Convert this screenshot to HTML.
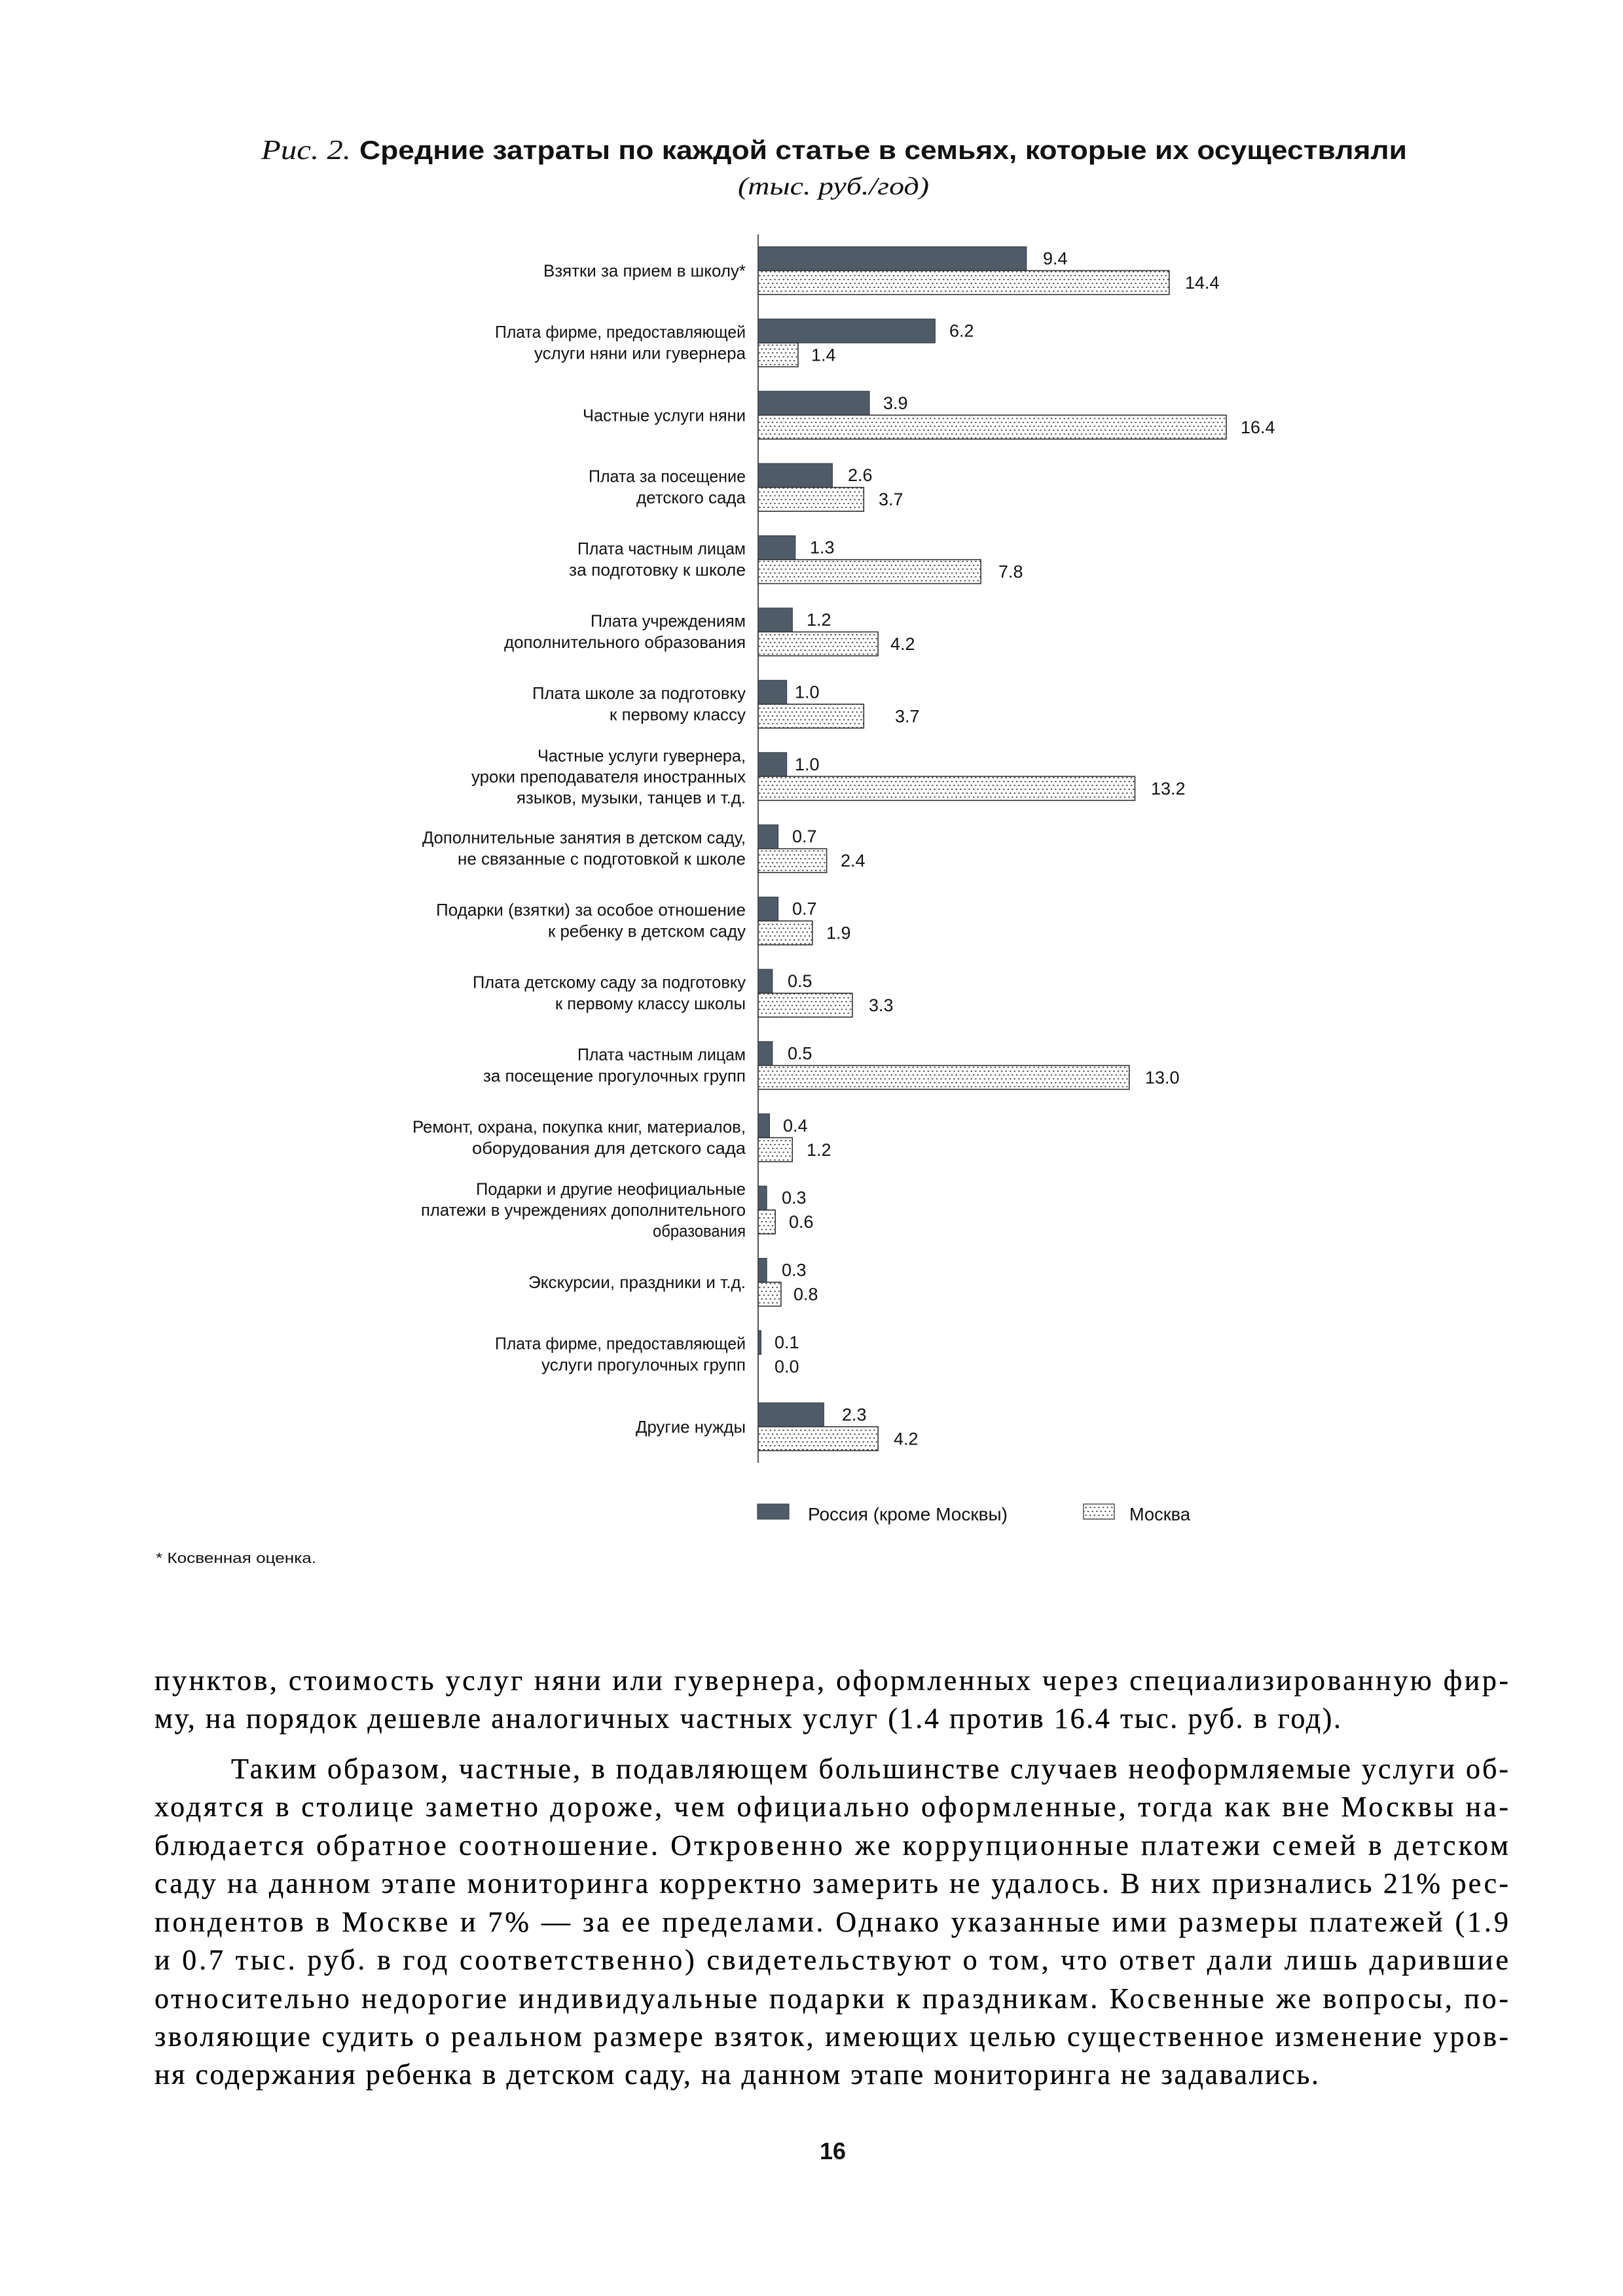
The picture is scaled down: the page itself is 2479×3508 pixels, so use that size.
<!DOCTYPE html>
<html>
<head>
<meta charset="utf-8">
<style>
  html, body { margin:0; padding:0; background:#fff; }
  body { width:2479px; height:3508px; overflow:hidden; position:relative; }
  svg { position:absolute; left:0; top:0; }
  .lbl { font-family:"Liberation Sans", "DejaVu Sans", sans-serif; font-size:26px; fill:#111; }
  .val { font-family:"Liberation Sans", "DejaVu Sans", sans-serif; font-size:27px; fill:#111; }
  .body { font-family:"Liberation Serif", "DejaVu Serif", serif; font-size:44px; fill:#000; stroke:#000; stroke-width:0.3; }
</style>
</head>
<body>
<svg width="2479" height="3508" viewBox="0 0 2479 3508" xmlns="http://www.w3.org/2000/svg">
  <defs>
    <pattern id="dots" patternUnits="userSpaceOnUse" width="6.6" height="11.8">
      <rect x="1" y="1.5" width="2.2" height="1.6" fill="#1e1e1e"/>
      <rect x="4.3" y="7.4" width="2.2" height="1.6" fill="#1e1e1e"/>
    </pattern>
  </defs>

  <!-- Title -->
  <text x="399" y="243" font-family="Liberation Serif, serif" font-style="italic" font-size="42" fill="#111" textLength="137" lengthAdjust="spacingAndGlyphs">Рис. 2.</text>
  <text x="549" y="243" font-family="Liberation Sans, sans-serif" font-weight="bold" font-size="40" fill="#111" textLength="1600" lengthAdjust="spacingAndGlyphs">Средние затраты по каждой статье в семьях, которые их осуществляли</text>
  <text x="1127" y="297" font-family="Liberation Serif, serif" font-style="italic" font-size="38" fill="#111" textLength="292" lengthAdjust="spacingAndGlyphs">(тыс. руб./год)</text>

  <!-- Axis -->
  <line x1="1158" y1="358" x2="1158" y2="2235" stroke="#555" stroke-width="2"/>

  <!-- Bars -->
  <g stroke="#39434d" stroke-width="1.2" fill="#4f5b67">
    <rect x="1158" y="377" width="409.8" height="36.5"/>
    <rect x="1158" y="487.4" width="270.3" height="36.5"/>
    <rect x="1158" y="597.8" width="170.0" height="36.5"/>
    <rect x="1158" y="708.2" width="113.4" height="36.5"/>
    <rect x="1158" y="818.6" width="56.7" height="36.5"/>
    <rect x="1158" y="929" width="52.3" height="36.5"/>
    <rect x="1158" y="1039.4" width="43.6" height="36.5"/>
    <rect x="1158" y="1149.8" width="43.6" height="36.5"/>
    <rect x="1158" y="1260.2" width="30.5" height="36.5"/>
    <rect x="1158" y="1370.6" width="30.5" height="36.5"/>
    <rect x="1158" y="1481" width="21.8" height="36.5"/>
    <rect x="1158" y="1591.4" width="21.8" height="36.5"/>
    <rect x="1158" y="1701.8" width="17.4" height="36.5"/>
    <rect x="1158" y="1812.2" width="13.1" height="36.5"/>
    <rect x="1158" y="1922.6" width="13.1" height="36.5"/>
    <rect x="1158" y="2033" width="4.4" height="36.5"/>
    <rect x="1158" y="2143.4" width="100.3" height="36.5"/>
  </g>
  <g fill="#fff">
    <rect x="1158" y="413.5" width="627.8" height="36.5"/>
    <rect x="1158" y="523.9" width="61.0" height="36.5"/>
    <rect x="1158" y="634.3" width="715.0" height="36.5"/>
    <rect x="1158" y="744.7" width="161.3" height="36.5"/>
    <rect x="1158" y="855.1" width="340.1" height="36.5"/>
    <rect x="1158" y="965.5" width="183.1" height="36.5"/>
    <rect x="1158" y="1075.9" width="161.3" height="36.5"/>
    <rect x="1158" y="1186.3" width="575.5" height="36.5"/>
    <rect x="1158" y="1296.7" width="104.6" height="36.5"/>
    <rect x="1158" y="1407.1" width="82.8" height="36.5"/>
    <rect x="1158" y="1517.5" width="143.9" height="36.5"/>
    <rect x="1158" y="1627.9" width="566.8" height="36.5"/>
    <rect x="1158" y="1738.3" width="52.3" height="36.5"/>
    <rect x="1158" y="1848.7" width="26.2" height="36.5"/>
    <rect x="1158" y="1959.1" width="34.9" height="36.5"/>
    <rect x="1158" y="2179.9" width="183.1" height="36.5"/>
  </g>
  <g fill="url(#dots)" stroke="#333" stroke-width="1.6">
    <rect x="1158" y="413.5" width="627.8" height="36.5"/>
    <rect x="1158" y="523.9" width="61.0" height="36.5"/>
    <rect x="1158" y="634.3" width="715.0" height="36.5"/>
    <rect x="1158" y="744.7" width="161.3" height="36.5"/>
    <rect x="1158" y="855.1" width="340.1" height="36.5"/>
    <rect x="1158" y="965.5" width="183.1" height="36.5"/>
    <rect x="1158" y="1075.9" width="161.3" height="36.5"/>
    <rect x="1158" y="1186.3" width="575.5" height="36.5"/>
    <rect x="1158" y="1296.7" width="104.6" height="36.5"/>
    <rect x="1158" y="1407.1" width="82.8" height="36.5"/>
    <rect x="1158" y="1517.5" width="143.9" height="36.5"/>
    <rect x="1158" y="1627.9" width="566.8" height="36.5"/>
    <rect x="1158" y="1738.3" width="52.3" height="36.5"/>
    <rect x="1158" y="1848.7" width="26.2" height="36.5"/>
    <rect x="1158" y="1959.1" width="34.9" height="36.5"/>
    <rect x="1158" y="2179.9" width="183.1" height="36.5"/>
  </g>

  <!-- Value labels -->
  <g class="val">
    <text class="val" x="1593" y="404">9.4</text>
    <text class="val" x="1810" y="441">14.4</text>
    <text class="val" x="1450" y="514.4">6.2</text>
    <text class="val" x="1239" y="551.4">1.4</text>
    <text class="val" x="1349" y="624.8">3.9</text>
    <text class="val" x="1895" y="661.8">16.4</text>
    <text class="val" x="1295" y="735.2">2.6</text>
    <text class="val" x="1342" y="772.2">3.7</text>
    <text class="val" x="1237" y="845.6">1.3</text>
    <text class="val" x="1525" y="882.6">7.8</text>
    <text class="val" x="1232" y="956">1.2</text>
    <text class="val" x="1360" y="993">4.2</text>
    <text class="val" x="1214" y="1066.4">1.0</text>
    <text class="val" x="1367" y="1103.4">3.7</text>
    <text class="val" x="1214" y="1176.8">1.0</text>
    <text class="val" x="1758" y="1213.8">13.2</text>
    <text class="val" x="1210" y="1287.2">0.7</text>
    <text class="val" x="1284" y="1324.2">2.4</text>
    <text class="val" x="1210" y="1397.6">0.7</text>
    <text class="val" x="1262" y="1434.6">1.9</text>
    <text class="val" x="1203" y="1508">0.5</text>
    <text class="val" x="1327" y="1545">3.3</text>
    <text class="val" x="1203" y="1618.4">0.5</text>
    <text class="val" x="1749" y="1655.4">13.0</text>
    <text class="val" x="1196" y="1728.8">0.4</text>
    <text class="val" x="1232" y="1765.8">1.2</text>
    <text class="val" x="1194" y="1839.2">0.3</text>
    <text class="val" x="1205" y="1876.2">0.6</text>
    <text class="val" x="1194" y="1949.6">0.3</text>
    <text class="val" x="1212" y="1986.6">0.8</text>
    <text class="val" x="1183" y="2060">0.1</text>
    <text class="val" x="1183" y="2097">0.0</text>
    <text class="val" x="1286" y="2170.4">2.3</text>
    <text class="val" x="1365" y="2207.4">4.2</text>
  </g>

  <!-- Category labels -->
  <g class="lbl" text-anchor="end">
    <text class="lbl" x="1139" y="422.5" textLength="309" lengthAdjust="spacingAndGlyphs">Взятки за прием в школу*</text>

    <text class="lbl" x="1139" y="515.9" textLength="383" lengthAdjust="spacingAndGlyphs">Плата фирме, предоставляющей</text>
    <text class="lbl" x="1139" y="548.4" textLength="323" lengthAdjust="spacingAndGlyphs">услуги няни или гувернера</text>

    <text class="lbl" x="1139" y="643.3" textLength="249" lengthAdjust="spacingAndGlyphs">Частные услуги няни</text>

    <text class="lbl" x="1139" y="736.7" textLength="240" lengthAdjust="spacingAndGlyphs">Плата за посещение</text>
    <text class="lbl" x="1139" y="769.2" textLength="167" lengthAdjust="spacingAndGlyphs">детского сада</text>

    <text class="lbl" x="1139" y="847.1" textLength="257" lengthAdjust="spacingAndGlyphs">Плата частным лицам</text>
    <text class="lbl" x="1139" y="879.6" textLength="270" lengthAdjust="spacingAndGlyphs">за подготовку к школе</text>

    <text class="lbl" x="1139" y="957.5" textLength="237" lengthAdjust="spacingAndGlyphs">Плата учреждениям</text>
    <text class="lbl" x="1139" y="990" textLength="369" lengthAdjust="spacingAndGlyphs">дополнительного образования</text>

    <text class="lbl" x="1139" y="1067.9" textLength="326" lengthAdjust="spacingAndGlyphs">Плата школе за подготовку</text>
    <text class="lbl" x="1139" y="1100.4" textLength="208" lengthAdjust="spacingAndGlyphs">к первому классу</text>

    <text class="lbl" x="1139" y="1163.3" textLength="318" lengthAdjust="spacingAndGlyphs">Частные услуги гувернера,</text>
    <text class="lbl" x="1139" y="1195.3" textLength="419" lengthAdjust="spacingAndGlyphs">уроки преподавателя иностранных</text>
    <text class="lbl" x="1139" y="1227.3" textLength="350" lengthAdjust="spacingAndGlyphs">языков, музыки, танцев и т.д.</text>

    <text class="lbl" x="1139" y="1288.7" textLength="494" lengthAdjust="spacingAndGlyphs">Дополнительные занятия в детском саду,</text>
    <text class="lbl" x="1139" y="1321.2" textLength="440" lengthAdjust="spacingAndGlyphs">не связанные с подготовкой к школе</text>

    <text class="lbl" x="1139" y="1399.1" textLength="473" lengthAdjust="spacingAndGlyphs">Подарки (взятки) за особое отношение</text>
    <text class="lbl" x="1139" y="1431.6" textLength="302" lengthAdjust="spacingAndGlyphs">к ребенку в детском саду</text>

    <text class="lbl" x="1139" y="1509.5" textLength="417" lengthAdjust="spacingAndGlyphs">Плата детскому саду за подготовку</text>
    <text class="lbl" x="1139" y="1542" textLength="291" lengthAdjust="spacingAndGlyphs">к первому классу школы</text>

    <text class="lbl" x="1139" y="1619.9" textLength="257" lengthAdjust="spacingAndGlyphs">Плата частным лицам</text>
    <text class="lbl" x="1139" y="1652.4" textLength="401" lengthAdjust="spacingAndGlyphs">за посещение прогулочных групп</text>

    <text class="lbl" x="1139" y="1730.3" textLength="509" lengthAdjust="spacingAndGlyphs">Ремонт, охрана, покупка книг, материалов,</text>
    <text class="lbl" x="1139" y="1762.8" textLength="418" lengthAdjust="spacingAndGlyphs">оборудования для детского сада</text>

    <text class="lbl" x="1139" y="1825.7" textLength="412" lengthAdjust="spacingAndGlyphs">Подарки и другие неофициальные</text>
    <text class="lbl" x="1139" y="1857.7" textLength="496" lengthAdjust="spacingAndGlyphs">платежи в учреждениях дополнительного</text>
    <text class="lbl" x="1139" y="1889.7" textLength="142" lengthAdjust="spacingAndGlyphs">образования</text>

    <text class="lbl" x="1139" y="1968.1" textLength="332" lengthAdjust="spacingAndGlyphs">Экскурсии, праздники и т.д.</text>

    <text class="lbl" x="1139" y="2061.5" textLength="383" lengthAdjust="spacingAndGlyphs">Плата фирме, предоставляющей</text>
    <text class="lbl" x="1139" y="2094" textLength="312" lengthAdjust="spacingAndGlyphs">услуги прогулочных групп</text>

    <text class="lbl" x="1139" y="2188.9" textLength="168" lengthAdjust="spacingAndGlyphs">Другие нужды</text>
  </g>

  <!-- Legend -->
  <rect x="1157" y="2298" width="48" height="23" fill="#4f5b67" stroke="#39434d" stroke-width="1.2"/>
  <text x="1234" y="2323" font-family="Liberation Sans, sans-serif" font-size="28" fill="#111" textLength="305" lengthAdjust="spacingAndGlyphs">Россия (кроме Москвы)</text>
  <rect x="1655" y="2298" width="47" height="23" fill="#fff"/>
  <rect x="1655" y="2298" width="47" height="23" fill="url(#dots)" stroke="#444" stroke-width="1.4"/>
  <text x="1725" y="2323" font-family="Liberation Sans, sans-serif" font-size="28" fill="#111" textLength="93" lengthAdjust="spacingAndGlyphs">Москва</text>

  <!-- Footnote -->
  <text x="238" y="2388" font-family="Liberation Sans, sans-serif" font-size="22" fill="#111" textLength="245" lengthAdjust="spacingAndGlyphs">* Косвенная оценка.</text>

  <!-- Body text -->
  <g class="body">
    <text class="body" x="236" y="2582" textLength="2068" lengthAdjust="spacing">пунктов, стоимость услуг няни или гувернера, оформленных через специализированную фир-</text>
    <text class="body" x="236" y="2640" textLength="1812" lengthAdjust="spacing">му, на порядок дешевле аналогичных частных услуг (1.4 против 16.4 тыс. руб. в год).</text>
    <text class="body" x="353" y="2717" textLength="1951" lengthAdjust="spacing">Таким образом, частные, в подавляющем большинстве случаев неоформляемые услуги об-</text>
    <text class="body" x="236" y="2775" textLength="2068" lengthAdjust="spacing">ходятся в столице заметно дороже, чем официально оформленные, тогда как вне Москвы на-</text>
    <text class="body" x="236" y="2834" textLength="2068" lengthAdjust="spacing">блюдается обратное соотношение. Откровенно же коррупционные платежи семей в детском</text>
    <text class="body" x="236" y="2892" textLength="2068" lengthAdjust="spacing">саду на данном этапе мониторинга корректно замерить не удалось. В них признались 21% рес-</text>
    <text class="body" x="236" y="2951" textLength="2068" lengthAdjust="spacing">пондентов в Москве и 7% — за ее пределами. Однако указанные ими размеры платежей (1.9</text>
    <text class="body" x="236" y="3009" textLength="2068" lengthAdjust="spacing">и 0.7 тыс. руб. в год соответственно) свидетельствуют о том, что ответ дали лишь дарившие</text>
    <text class="body" x="236" y="3068" textLength="2068" lengthAdjust="spacing">относительно недорогие индивидуальные подарки к праздникам. Косвенные же вопросы, по-</text>
    <text class="body" x="236" y="3126" textLength="2068" lengthAdjust="spacing">зволяющие судить о реальном размере взяток, имеющих целью существенное изменение уров-</text>
    <text class="body" x="236" y="3184" textLength="1778" lengthAdjust="spacing">ня содержания ребенка в детском саду, на данном этапе мониторинга не задавались.</text>
  </g>

  <!-- Page number -->
  <text x="1272" y="3299" text-anchor="middle" font-family="Liberation Sans, sans-serif" font-weight="bold" font-size="36" fill="#111">16</text>
</svg>
</body>
</html>
